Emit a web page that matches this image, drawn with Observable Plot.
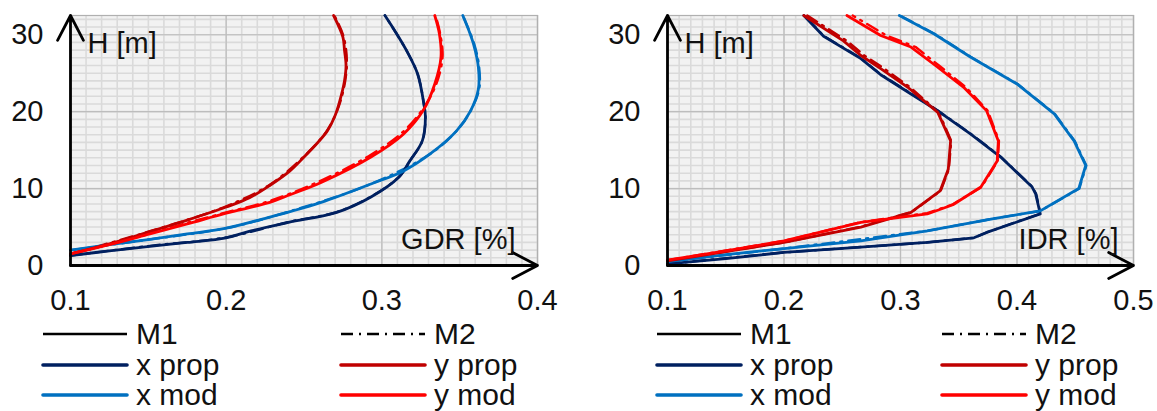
<!DOCTYPE html>
<html>
<head>
<meta charset="utf-8">
<script src="https://cdn.jsdelivr.net/npm/d3@7"></script>
<script src="https://cdn.jsdelivr.net/npm/@observablehq/plot@0.6"></script>
<style>
  body { margin: 0; background: #fff; }
  #wrap { position: relative; width: 1157px; height: 411px; overflow: hidden; background: #fff;
          font-family: "Liberation Sans", Arial, sans-serif; }
  .panel { position: absolute; top: 0; }
  .leg { position: absolute; height: 30px; display: flex; align-items: center; font-size: 30px; line-height: 1; color: #111; white-space: nowrap; }
  .leg svg { margin-right: 7px; }
</style>
</head>
<body>
<div id="wrap"></div>
<script>
// ---------- data ----------
const hTicks = [0, 10, 20, 30];
const gdrTicks = [0.1, 0.2, 0.3, 0.4];
const idrTicks = [0.1, 0.2, 0.3, 0.4, 0.5];
const hDomain = [0, 32.5];
const gdrDomain = [0.1, 0.4];
const idrDomain = [0.1, 0.5];
const seriesNames = ["x prop", "x mod", "y prop", "y mod"];
const methodNames = ["M1", "M2"];
const axisLabels = { gdr: "GDR [%]", idr: "IDR [%]", h: "H [m]" };

// GDR panel, [value, height]
const gdr_xprop_M1 = [[0.1,1.3],[0.125,1.9],[0.151,2.5],[0.175,3.0],[0.2,3.6],[0.216,4.5],[0.24,5.6],[0.271,6.9],[0.293,8.9],[0.311,11.5],[0.318,13.6],[0.326,16.2],[0.328,19.3],[0.327,21.0],[0.323,24.9],[0.316,27.9],[0.309,30.3],[0.302,32.5]];
const gdr_xmod_M1  = [[0.1,2.0],[0.125,2.7],[0.151,3.4],[0.175,4.1],[0.2,4.85],[0.228,6.3],[0.241,7.0],[0.261,8.2],[0.293,10.6],[0.314,12.3],[0.331,14.5],[0.348,17.5],[0.357,20.1],[0.362,22.9],[0.362,25.8],[0.359,28.7],[0.356,30.5],[0.352,32.5]];
const gdr_yprop_M1 = [[0.1,1.5],[0.125,2.8],[0.151,4.4],[0.175,5.9],[0.2,7.6],[0.215,8.8],[0.228,10.4],[0.241,12.3],[0.25,14.1],[0.258,15.8],[0.265,17.5],[0.27,19.5],[0.273,21.4],[0.276,24.0],[0.277,26.0],[0.276,28.0],[0.275,29.7],[0.269,32.5]];
const gdr_ymod_M1  = [[0.1,1.5],[0.125,2.7],[0.151,4.1],[0.175,5.4],[0.2,6.8],[0.228,8.2],[0.241,9.2],[0.261,10.8],[0.293,14.1],[0.314,17.1],[0.327,20.3],[0.334,23.6],[0.338,27.1],[0.337,30.1],[0.334,32.5]];
const gdr_xprop_M2 = [[0.1,1.3],[0.151,2.55],[0.2,3.65],[0.24,5.65],[0.271,6.95],[0.293,8.95],[0.311,11.5],[0.318,13.6],[0.326,16.2],[0.328,19.3],[0.327,21.0],[0.323,24.9],[0.316,27.9],[0.302,32.5]];
const gdr_xmod_M2  = [[0.1,2.0],[0.151,3.4],[0.2,4.85],[0.241,7.05],[0.293,10.6],[0.331,14.5],[0.348,17.5],[0.357,20.1],[0.3625,22.9],[0.3625,25.8],[0.3595,28.7],[0.352,32.5]];
const gdr_yprop_M2 = [[0.1,1.5],[0.151,4.45],[0.2,7.7],[0.228,10.5],[0.25,14.2],[0.265,17.6],[0.2735,21.4],[0.2775,26.0],[0.2755,29.7],[0.2695,32.5]];
const gdr_ymod_M2  = [[0.1,1.5],[0.125,2.75],[0.151,4.2],[0.175,5.55],[0.2,6.9],[0.228,8.4],[0.261,11.05],[0.293,14.4],[0.314,17.45],[0.327,20.55],[0.335,23.6],[0.339,27.1],[0.3375,30.1],[0.3345,32.5]];

// IDR panel, [value, height]
const idr_xprop_M1 = [[0.1,0.2],[0.15,0.9],[0.2,1.7],[0.266,2.4],[0.323,3.0],[0.363,3.6],[0.374,4.3],[0.42,6.7],[0.416,9.3],[0.413,10.2],[0.386,14.1],[0.36,17.1],[0.332,20.1],[0.309,22.3],[0.283,24.8],[0.266,26.9],[0.234,29.8],[0.217,32.5]];
const idr_xmod_M1  = [[0.1,0.5],[0.15,1.4],[0.2,2.2],[0.266,3.2],[0.323,4.5],[0.38,6.1],[0.42,7.1],[0.453,10.0],[0.459,13.0],[0.449,16.2],[0.432,19.7],[0.4,23.6],[0.36,27.1],[0.329,30.1],[0.299,32.5]];
const idr_yprop_M1 = [[0.1,0.6],[0.15,1.8],[0.2,3.0],[0.266,5.0],[0.309,6.9],[0.334,9.7],[0.341,12.5],[0.343,16.2],[0.332,19.9],[0.306,23.2],[0.283,25.6],[0.266,27.3],[0.251,29.2],[0.217,32.5]];
const idr_ymod_M1  = [[0.1,0.7],[0.15,1.9],[0.2,3.2],[0.266,5.6],[0.323,6.7],[0.345,7.9],[0.369,10.2],[0.383,13.6],[0.384,16.2],[0.374,20.1],[0.354,23.2],[0.33,26.0],[0.309,28.4],[0.283,29.9],[0.254,32.5]];
const idr_xprop_M2 = [[0.1,0.2],[0.2,1.7],[0.323,3.0],[0.363,3.6],[0.374,4.3],[0.42,6.75],[0.4165,9.3],[0.413,10.25],[0.386,14.15],[0.36,17.15],[0.332,20.15],[0.309,22.35],[0.283,24.85],[0.266,26.95],[0.234,29.85],[0.2175,32.5]];
const idr_xmod_M2  = [[0.1,0.5],[0.2,2.2],[0.323,4.5],[0.38,6.1],[0.42,7.1],[0.4535,10.0],[0.4595,13.0],[0.4495,16.2],[0.4325,19.7],[0.4005,23.6],[0.3605,27.1],[0.3295,30.1],[0.2995,32.5]];
const idr_yprop_M2 = [[0.1,0.6],[0.2,3.0],[0.266,5.05],[0.3095,6.95],[0.3345,9.7],[0.3415,12.5],[0.3435,16.2],[0.333,19.9],[0.308,23.2],[0.286,25.6],[0.269,27.3],[0.254,29.2],[0.22,32.5]];
const idr_ymod_M2  = [[0.1,0.7],[0.2,3.2],[0.266,5.65],[0.323,6.8],[0.345,7.95],[0.3695,10.2],[0.3835,13.6],[0.3845,16.2],[0.375,20.1],[0.356,23.2],[0.333,26.0],[0.313,28.4],[0.288,29.9],[0.259,32.5]];

// ---------- styles ----------
const colors = { "x prop": "#002060", "x mod": "#0070c0", "y prop": "#c00000", "y mod": "#ff0000" };
const dashM2 = "12,6,2,6";
const FONT = "'Liberation Sans', Arial, sans-serif";

function panel({ xDomain, xTicks, xLabel, width, marginLeft, marginRight, labelDx, series, curve }) {
  const minorX = d3.range(Math.round(xDomain[0] * 100), Math.round(xDomain[1] * 100) + 1).map(d => d / 100);
  const minorY = d3.range(0, Math.floor(hDomain[1]) + 1);
  const lines = [];
  for (const s of seriesNames) {
    lines.push(Plot.line(series[s].M2, { x: d => d[0], y: d => d[1], stroke: colors[s], strokeWidth: 2.4, strokeDasharray: dashM2, curve }));
  }
  for (const s of seriesNames) {
    lines.push(Plot.line(series[s].M1, { x: d => d[0], y: d => d[1], stroke: colors[s], strokeWidth: 2.8, curve }));
  }
  return Plot.plot({
    width, height: 320,
    marginLeft, marginRight, marginTop: 15, marginBottom: 55,
    style: { fontSize: "29px", fontFamily: FONT, background: "transparent", overflow: "visible" },
    x: { domain: xDomain, axis: null },
    y: { domain: hDomain, axis: null },
    marks: [
      Plot.frame({ fill: "#f2f2f2", stroke: null }),
      Plot.ruleX(minorX, { stroke: "#dadada", strokeWidth: 1.6 }),
      Plot.ruleY(minorY, { stroke: "#dadada", strokeWidth: 1.6 }),
      Plot.ruleX(xTicks, { stroke: "#bdbdbd", strokeWidth: 1.2 }),
      Plot.ruleY(hTicks, { stroke: "#bdbdbd", strokeWidth: 1.2 }),
      Plot.frame({ stroke: "#b0b0b0", strokeWidth: 1.2 }),
      ...lines,
      Plot.arrow([{ x1: xDomain[0], y1: hDomain[0], x2: xDomain[0], y2: hDomain[1] }],
        { x1: "x1", y1: "y1", x2: "x2", y2: "y2", stroke: "#000", strokeWidth: 2.8, headLength: 15, headAngle: 55, clip: false }),
      Plot.arrow([{ x1: xDomain[0], y1: hDomain[0], x2: xDomain[1], y2: hDomain[0] }],
        { x1: "x1", y1: "y1", x2: "x2", y2: "y2", stroke: "#000", strokeWidth: 2.8, headLength: 15, headAngle: 55, clip: false }),
      Plot.axisY(hTicks, { tickSize: 0, tickPadding: 27, fontSize: 29, fill: "#111", tickFormat: d => String(d) }),
      Plot.axisX(xTicks, { tickSize: 0, tickPadding: 24, fontSize: 29, fill: "#111", tickFormat: d => d.toFixed(1) }),
      Plot.text([axisLabels.h], { x: () => xDomain[0], y: () => hDomain[1], text: d => d, dx: 17, dy: 28, textAnchor: "start", fontSize: 29, fill: "#111" }),
      Plot.text([xLabel], { x: () => xDomain[1], y: () => hDomain[0], text: d => d, dx: labelDx, dy: -26, textAnchor: "end", fontSize: 29, fill: "#111" })
    ]
  });
}

const wrap = document.getElementById("wrap");

const left = panel({
  xDomain: gdrDomain, xTicks: gdrTicks, xLabel: axisLabels.gdr, width: 578, marginLeft: 70, marginRight: 41, labelDx: -22, curve: "catmull-rom",
  series: {
    "x prop": { M1: gdr_xprop_M1, M2: gdr_xprop_M2 },
    "x mod":  { M1: gdr_xmod_M1,  M2: gdr_xmod_M2 },
    "y prop": { M1: gdr_yprop_M1, M2: gdr_yprop_M2 },
    "y mod":  { M1: gdr_ymod_M1,  M2: gdr_ymod_M2 }
  }
});
const right = panel({
  xDomain: idrDomain, xTicks: idrTicks, xLabel: axisLabels.idr, width: 579, marginLeft: 89, marginRight: 24, labelDx: -15, curve: "linear",
  series: {
    "x prop": { M1: idr_xprop_M1, M2: idr_xprop_M2 },
    "x mod":  { M1: idr_xmod_M1,  M2: idr_xmod_M2 },
    "y prop": { M1: idr_yprop_M1, M2: idr_yprop_M2 },
    "y mod":  { M1: idr_ymod_M1,  M2: idr_ymod_M2 }
  }
});

const pl = document.createElement("div"); pl.className = "panel"; pl.style.left = "0px"; pl.appendChild(left); wrap.appendChild(pl);
const pr = document.createElement("div"); pr.className = "panel"; pr.style.left = "578px"; pr.appendChild(right); wrap.appendChild(pr);

// ---------- legends ----------
const legendRows = [[methodNames[0], methodNames[1]], [seriesNames[0], seriesNames[2]], [seriesNames[1], seriesNames[3]]];
const rowCenters = [334, 365, 395];
function legendSwatch(name) {
  const ns = "http://www.w3.org/2000/svg";
  const svg = document.createElementNS(ns, "svg");
  svg.setAttribute("width", 88); svg.setAttribute("height", 12);
  const ln = document.createElementNS(ns, "line");
  ln.setAttribute("x1", 2); ln.setAttribute("x2", 86); ln.setAttribute("y1", 6); ln.setAttribute("y2", 6);
  if (name === "M1" || name === "M2") {
    ln.setAttribute("stroke", "#000"); ln.setAttribute("stroke-width", 2.4);
    if (name === "M2") ln.setAttribute("stroke-dasharray", dashM2);
  } else {
    ln.setAttribute("stroke", colors[name]); ln.setAttribute("stroke-width", 3.6); ln.setAttribute("stroke-linecap", "round");
  }
  svg.appendChild(ln);
  return svg;
}
function legend(colLefts) {
  legendRows.forEach((row, r) => {
    row.forEach((name, c) => {
      const d = document.createElement("div");
      d.className = "leg";
      d.style.left = colLefts[c] + "px";
      d.style.top = (rowCenters[r] - 15) + "px";
      d.appendChild(legendSwatch(name));
      const t = document.createElement("span"); t.textContent = name;
      d.appendChild(t);
      wrap.appendChild(d);
    });
  });
}
legend([41, 339]);
legend([655, 940]);
</script>
</body>
</html>
